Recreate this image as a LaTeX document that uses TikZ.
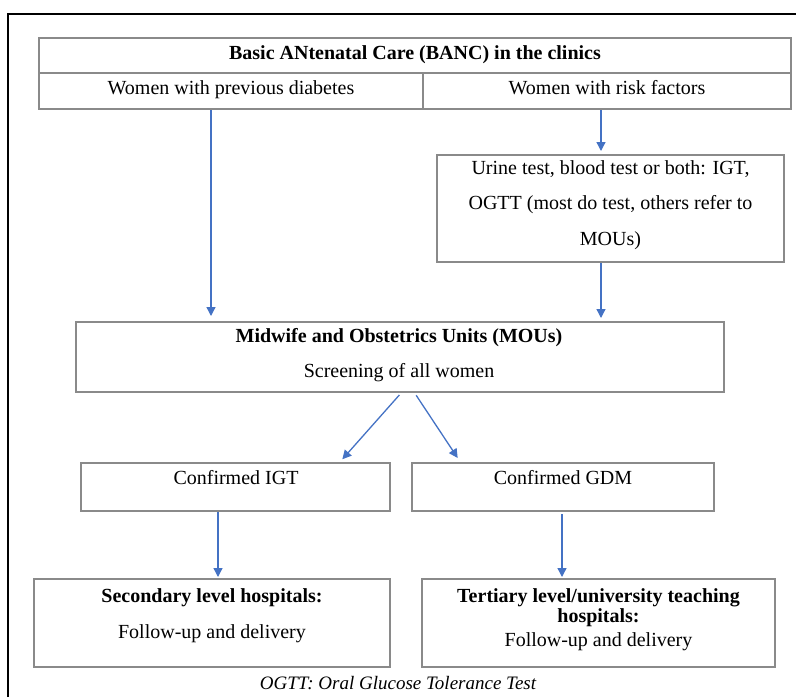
\documentclass[tikz,border=0pt]{standalone}
\usepackage{fontspec}
\setmainfont{Liberation Serif}
\usetikzlibrary{arrows.meta}
\definecolor{boxgray}{HTML}{8A8A8A}
\definecolor{arrblue}{HTML}{4472C4}
\begin{document}
\begin{tikzpicture}[x=1pt,y=-1pt,
  box/.style={draw=boxgray, line width=1.6pt, inner sep=0pt, outer sep=0pt},
  txt/.style={font=\fontsize{20}{24}\selectfont, inner sep=0pt, anchor=base},
  btxt/.style={font=\fontsize{20}{24}\selectfont\bfseries, inner sep=0pt, anchor=base},
  captxt/.style={font=\fontsize{19}{23}\selectfont\itshape, inner sep=0pt, anchor=base},
  arr/.style={draw=arrblue, line width=1.3pt, -{Triangle[length=9pt,width=9pt]}},
  outerframe/.style={draw=black, line width=1.4pt}
]
\useasboundingbox (0,0) rectangle (796,697);
% outer frame
\draw[outerframe] (8,697) -- (8,14) -- (796,14);

% table
\node[box, minimum width=752pt, minimum height=35pt] (title) at (415,55.5) {};
\node[box, minimum width=384pt, minimum height=36pt] (prev) at (231,91) {};
\node[box, minimum width=368pt, minimum height=36pt] (risk) at (607,91) {};
\node[btxt] (titletxt) at (415,59) {Basic ANtenatal Care (BANC) in the clinics};
\node[txt] (prevtxt) at (231,94) {Women with previous diabetes};
\node[txt] (risktxt) at (607,94) {Women with risk factors};

% urine box
\node[box, minimum width=347pt, minimum height=107pt] (urine) at (610.5,208.5) {};
\node[txt] (u1) at (610.5,174) {Urine test, blood test or both: IGT,};
\node[txt] (u2) at (610.5,209) {OGTT (most do test, others refer to};
\node[txt] (u3) at (610.5,245) {MOUs)};

% MOU box
\node[box, minimum width=648pt, minimum height=70pt] (mou) at (400,357) {};
\node[btxt] (m1) at (399,342) {Midwife and Obstetrics Units (MOUs)};
\node[txt] (m2) at (399,377) {Screening of all women};

% confirmed boxes
\node[box, minimum width=309pt, minimum height=48pt] (igt) at (235.5,487) {};
\node[txt] (igttxt) at (236,484) {Confirmed IGT};
\node[box, minimum width=302pt, minimum height=48pt] (gdm) at (563,487) {};
\node[txt] (gdmtxt) at (563,484) {Confirmed GDM};

% hospital boxes
\node[box, minimum width=356pt, minimum height=88pt] (sec) at (212,623) {};
\node[btxt] (s1) at (212,602) {Secondary level hospitals:};
\node[txt] (s2) at (212,638) {Follow-up and delivery};
\node[box, minimum width=353pt, minimum height=88pt] (ter) at (598.5,623) {};
\node[btxt] (t1) at (598.5,602) {Tertiary level/university teaching};
\node[btxt] (t2) at (598.5,622) {hospitals:};
\node[txt] (t3) at (598.5,646) {Follow-up and delivery};

% caption
\node[captxt] (caption) at (398,689) {OGTT: Oral Glucose Tolerance Test};

% connector x positions
\coordinate (xl) at (211,0);
\coordinate (xr) at (601,0);
\coordinate (d1) at (402,0);
\coordinate (d2) at (414,0);
\coordinate (e1) at (339,0);
\coordinate (e2) at (461,0);
\coordinate (xi) at (218,0);
\coordinate (xg) at (562,0);

% arrows
\draw[arr, shorten <=1pt, shorten >=6pt] (prev.south -| xl) -- (mou.north -| xl);
\draw[arr, shorten <=1pt, shorten >=4pt] (risk.south -| xr) -- (urine.north -| xr);
\draw[arr, shorten <=1pt, shorten >=4pt] (urine.south -| xr) -- (mou.north -| xr);
\draw[arr, shorten <=4pt, shorten >=5pt] (mou.south -| d1) -- (igt.north -| e1);
\draw[arr, shorten <=4pt, shorten >=6pt] (mou.south -| d2) -- (gdm.north -| e2);
\draw[arr, shorten <=1pt, shorten >=2pt] (igt.south -| xi) -- (sec.north -| xi);
\draw[arr, shorten <=3pt, shorten >=2pt] (gdm.south -| xg) -- (ter.north -| xg);
\end{tikzpicture}
\end{document}
